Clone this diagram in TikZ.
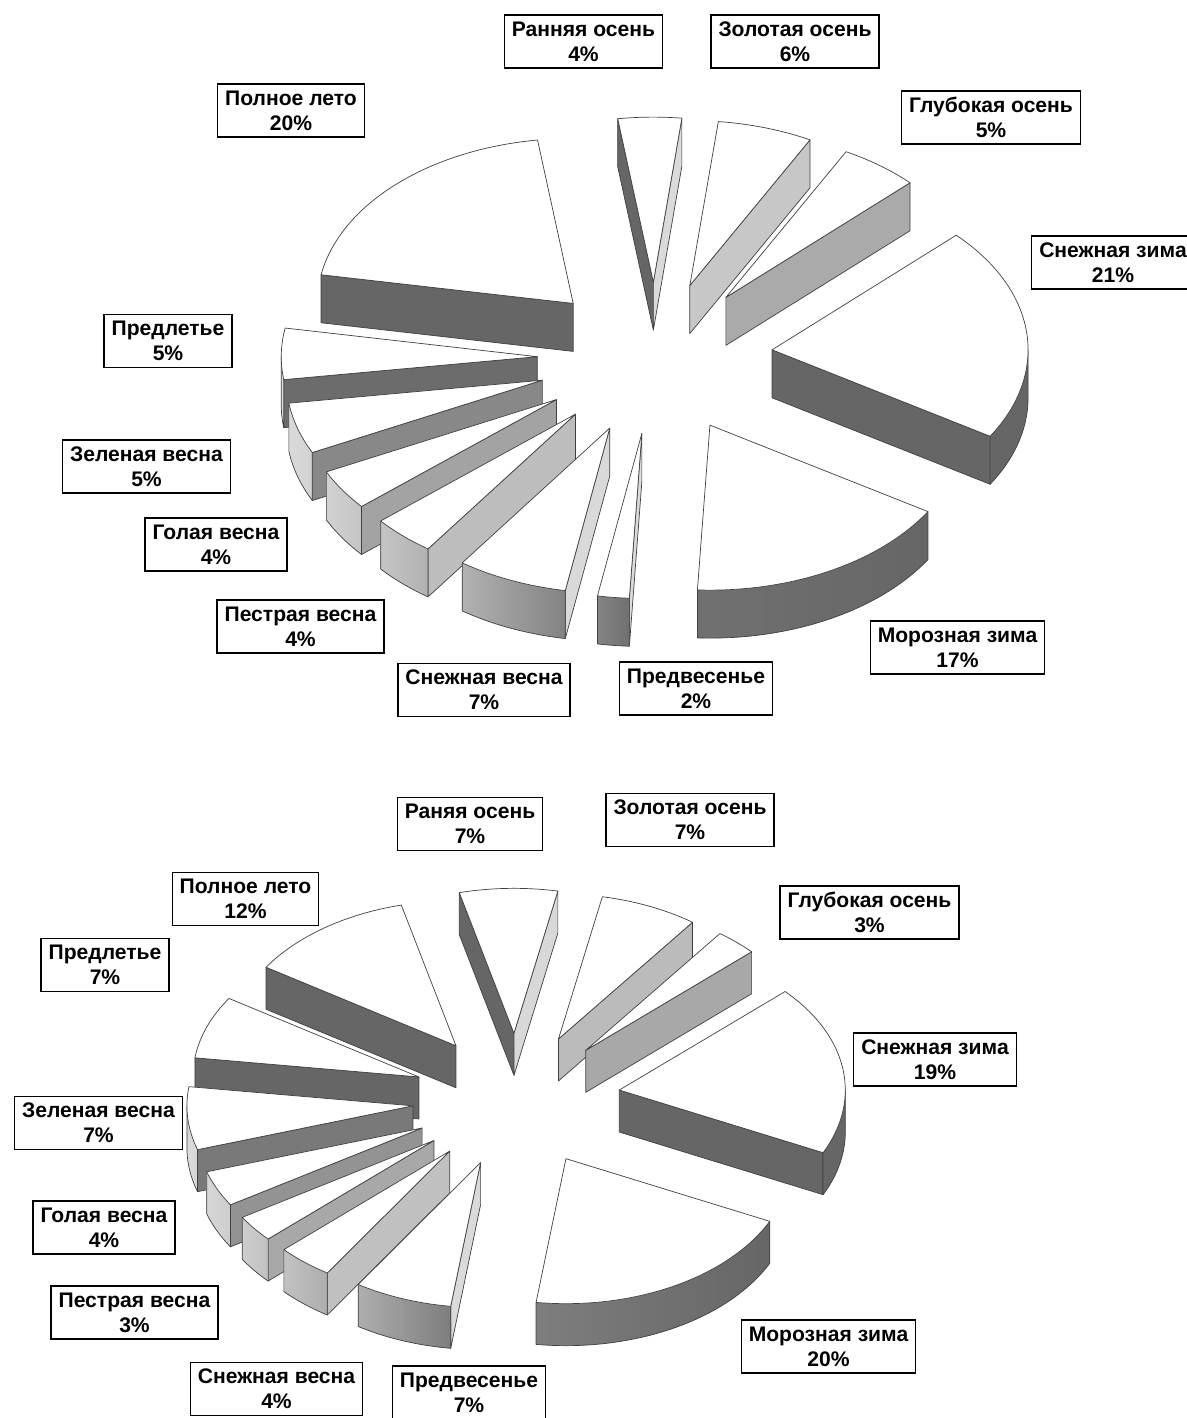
\documentclass[tikz,border=0pt]{standalone}
\usepackage{fontspec}
\setmainfont{Liberation Sans}
\definecolor{edgeGray}{HTML}{404040}
\tikzset{
  seasonLabel/.style={draw=black, line width=0.8pt, fill=white, align=center,
    font=\bfseries\fontsize{12}{14.2}\selectfont, inner xsep=0.15cm, inner ysep=2pt, minimum height=1.06cm},
  sliceEdge/.style={draw=edgeGray, line width=0.4pt, line join=round}
}
% one exploded slice of a 3d pie, from angle #1 clockwise to angle #2
\newcommand{\pieslice}[2]{%
  \pgfmathsetmacro\smid{(#1+#2)/2}%
  \pgfmathsetmacro\ox{\pcx+\pexp*\pra*cos(\smid)}%
  \pgfmathsetmacro\oy{\pcy-\pexp*\prb*sin(\smid)}%
  \pgfmathtruncatemacro\vis{cos(#1)<0}%
  \ifnum\vis=1
    \pgfmathsetmacro\gv{100*(0.4+0.46*pow(max(0.0001,-sin(#1)),1.5))}%
    \filldraw[sliceEdge, fill=white!\gv!black] (\ox,\oy) -- ({\ox+\pra*cos(#1)},{\oy-\prb*sin(#1)}) -- ++(0,\pth) -- (\ox,{\oy+\pth}) -- cycle;
  \fi
  \pgfmathtruncatemacro\vis{cos(#2)>0}%
  \ifnum\vis=1
    \pgfmathsetmacro\gv{100*(0.4+0.46*pow(max(0.0001,sin(#2)),1.5))}%
    \filldraw[sliceEdge, fill=white!\gv!black] (\ox,\oy) -- ({\ox+\pra*cos(#2)},{\oy-\prb*sin(#2)}) -- ++(0,\pth) -- (\ox,{\oy+\pth}) -- cycle;
  \fi
  \pgfmathsetmacro\rA{max(#2,-180)}%
  \pgfmathsetmacro\rB{min(#1,0)}%
  \ifdim\rA pt<\rB pt
    \pgfmathsetmacro\gl{100*(0.4+0.46*pow(max(0.0001,-cos(\rA)),0.8))}%
    \pgfmathsetmacro\gr{100*(0.4+0.46*pow(max(0.0001,-cos(\rB)),0.8))}%
    \shade[left color=white!\gl!black, right color=white!\gr!black]
      plot[domain=\rA:\rB, samples=40, variable=\t] ({\ox+\pra*cos(\t)},{\oy-\prb*sin(\t)})
      -- plot[domain=\rB:\rA, samples=40, variable=\t] ({\ox+\pra*cos(\t)},{\oy-\prb*sin(\t)+\pth}) -- cycle;
    \draw[sliceEdge] ({\ox+\pra*cos(\rA)},{\oy-\prb*sin(\rA)}) -- ++(0,\pth) -- plot[domain=\rA:\rB, samples=40, variable=\t] ({\ox+\pra*cos(\t)},{\oy-\prb*sin(\t)+\pth}) -- ++(0,-\pth);
  \fi
  \filldraw[sliceEdge, fill=white] (\ox,\oy) -- plot[domain=#1:#2, samples=50, variable=\t] ({\ox+\pra*cos(\t)},{\oy-\prb*sin(\t)}) -- cycle;
}

\begin{document}
\begin{tikzpicture}[x=0.02cm, y=-0.02cm]
  \useasboundingbox (0,0) rectangle (1187,1418);

  % first chart
  \def\pcx{655}\def\pcy{358}\def\pra{256}\def\prb{165}\def\pexp{0.46}\def\pth{48}
  \pieslice{98}{83.6}
  \pieslice{83.6}{62}
  \pieslice{62}{44}
  \pieslice{-190}{-262}
  \pieslice{44}{-31.6}
  \pieslice{-172}{-190}
  \pieslice{-154}{-172}
  \pieslice{-139.6}{-154}
  \pieslice{-125.2}{-139.6}
  \pieslice{-31.6}{-92.8}
  \pieslice{-100}{-125.2}
  \pieslice{-92.8}{-100}

  \node[seasonLabel] (earlyA) at (583.5,41.5) {Ранняя осень\\4\%};
  \node[seasonLabel] (goldA) at (795,41.5) {Золотая осень\\6\%};
  \node[seasonLabel] (deepA) at (991,117.5) {Глубокая осень\\5\%};
  \node[seasonLabel] (snowWinterA) at (1113,262.5) {Снежная зима\\21\%};
  \node[seasonLabel] (frostA) at (957.5,647.5) {Морозная зима\\17\%};
  \node[seasonLabel] (preSpringA) at (696,688.5) {Предвесенье\\2\%};
  \node[seasonLabel] (snowSpringA) at (484,690) {Снежная весна\\7\%};
  \node[seasonLabel] (motleyA) at (300.5,626.5) {Пестрая весна\\4\%};
  \node[seasonLabel] (bareA) at (216,544.5) {Голая весна\\4\%};
  \node[seasonLabel] (greenA) at (146.5,466.5) {Зеленая весна\\5\%};
  \node[seasonLabel] (preSummerA) at (168,341) {Предлетье\\5\%};
  \node[seasonLabel] (summerA) at (291,110.5) {Полное лето\\20\%};

  % second chart
  \def\pcx{516.5}\def\pcy{1100}\def\pra{226}\def\prb{145}\def\pexp{0.46}\def\pth{42}
  \pieslice{104}{78.8}
  \pieslice{78.8}{53.6}
  \pieslice{-212.8}{-256}
  \pieslice{53.6}{42.8}
  \pieslice{-187.6}{-212.8}
  \pieslice{42.8}{-25.6}
  \pieslice{-162.4}{-187.6}
  \pieslice{-148}{-162.4}
  \pieslice{-137.2}{-148}
  \pieslice{-122.8}{-137.2}
  \pieslice{-25.6}{-97.6}
  \pieslice{-97.6}{-122.8}

  \node[seasonLabel] (earlyB) at (470,824) {Раняя осень\\7\%};
  \node[seasonLabel] (goldB) at (690,820) {Золотая осень\\7\%};
  \node[seasonLabel] (deepB) at (869.5,912.5) {Глубокая осень\\3\%};
  \node[seasonLabel] (snowWinterB) at (935,1059.5) {Снежная зима\\19\%};
  \node[seasonLabel] (frostB) at (828.5,1346.5) {Морозная зима\\20\%};
  \node[seasonLabel] (preSpringB) at (469,1392.5) {Предвесенье\\7\%};
  \node[seasonLabel] (snowSpringB) at (276.5,1389) {Снежная весна\\4\%};
  \node[seasonLabel] (motleyB) at (134.5,1312.5) {Пестрая весна\\3\%};
  \node[seasonLabel] (bareB) at (104,1227.5) {Голая весна\\4\%};
  \node[seasonLabel] (greenB) at (98.5,1123) {Зеленая весна\\7\%};
  \node[seasonLabel] (preSummerB) at (105,965) {Предлетье\\7\%};
  \node[seasonLabel] (summerB) at (245.5,899) {Полное лето\\12\%};
\end{tikzpicture}
\end{document}
